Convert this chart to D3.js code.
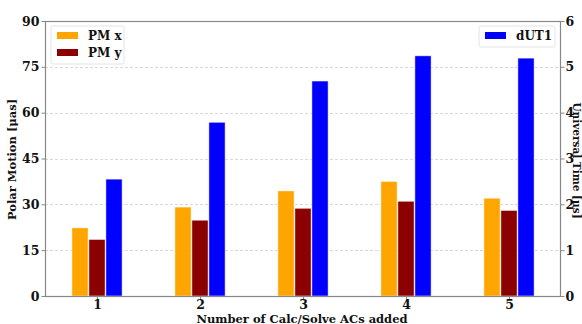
<!DOCTYPE html>
<html><head><meta charset="utf-8">
<script src="https://cdn.jsdelivr.net/npm/d3@7"></script>
<style>body{margin:0;background:#fff}svg{display:block}text{font-family:"DejaVu Serif","Liberation Serif",serif;font-weight:bold;fill:#111}</style>
</head><body><svg id="c" width="582" height="324"></svg>
<script>
const categories = ["1","2","3","4","5"];
const pmX = [22.3, 29.1, 34.4, 37.5, 32.0];
const pmY = [18.5, 24.8, 28.7, 31.0, 28.0];
const dUT1 = [2.55, 3.79, 4.69, 5.24, 5.19];
const leftTicks = [0,15,30,45,60,75,90];
const rightTicks = [0,1,2,3,4,5,6];

const svg = d3.select("#c");
const m = {l:45, r:560, t:21, b:296};
const x = d3.scaleLinear().domain([0.5,5.5]).range([45.5,560.5]);
const x0 = d3.scalePoint().domain(categories).range([x(1), x(5)]);
const yL = d3.scaleLinear().domain([0,90]).range([m.b, m.t]);
const yR = d3.scaleLinear().domain([0,6]).range([m.b, m.t]);
const off = 17, bw = 16.2;

// grid
svg.append("g").selectAll("line").data(leftTicks.slice(1,-1)).join("line")
  .attr("x1",m.l).attr("x2",m.r).attr("y1",d=>Math.round(yL(d))+0.5).attr("y2",d=>Math.round(yL(d))+0.5)
  .attr("stroke","#cfcfcf").attr("stroke-width",0.8).attr("stroke-dasharray","3,2");

function bars(data, scale, dx, color){
  svg.append("g").selectAll("rect").data(data).join("rect")
    .attr("x",(d,i)=>x0(categories[i])+dx-bw/2).attr("width",bw)
    .attr("y",d=>scale(d)).attr("height",d=>m.b-scale(d))
    .attr("fill",color).attr("stroke","#fff").attr("stroke-opacity",0.6).attr("stroke-width",0.8);
}
bars(pmX, yL, -off, "#FFA500");
bars(pmY, yL, 0, "#8B0000");
bars(dUT1, yR, off, "#0000FF");

// frame
svg.append("rect").attr("x",m.l+0.5).attr("y",m.t+0.5).attr("width",m.r-m.l).attr("height",m.b-m.t)
  .attr("fill","none").attr("stroke","#888").attr("stroke-width",1.2);

const axL = svg.append("g").attr("transform",`translate(${m.l+0.5},0)`)
  .call(d3.axisLeft(yL).tickValues(leftTicks).tickFormat(d3.format("d")).tickSize(4).tickPadding(2));
const axR = svg.append("g").attr("transform",`translate(${m.r+0.5},0)`)
  .call(d3.axisRight(yR).tickValues(rightTicks).tickFormat(d3.format("d")).tickSize(4).tickPadding(1));
const axB = svg.append("g").attr("transform",`translate(0,${m.b+0.5})`)
  .call(d3.axisBottom(x0).tickSize(4).tickPadding(0));
[axL,axR,axB].forEach(a=>{
  a.select(".domain").remove();
  a.selectAll("line").attr("stroke","#888");
  a.selectAll("text").attr("font-weight","bold").attr("font-size",12.5).attr("fill","#111");
});

svg.append("text").attr("x",302).attr("y",322.5).attr("text-anchor","middle").attr("font-size",11.5)
  .text("Number of Calc/Solve ACs added");
svg.append("text").attr("transform",`translate(16,${(m.t+m.b)/2+1}) rotate(-90)`).attr("text-anchor","middle")
  .attr("font-size",11.5).text("Polar Motion [μas]");
svg.append("text").attr("transform",`translate(573,${(m.t+m.b)/2+2}) rotate(90)`).attr("text-anchor","middle")
  .attr("font-size",10.5).text("Universal Time [μs]");

// legends
function legend(x1,y1,w,h,items){
  const g = svg.append("g");
  g.append("rect").attr("x",x1).attr("y",y1).attr("width",w).attr("height",h).attr("rx",2)
    .attr("fill","#fff").attr("fill-opacity",0.85).attr("stroke","#ddd").attr("stroke-width",0.8);
  items.forEach((it,i)=>{
    g.append("rect").attr("x",x1+6).attr("y",y1+6+i*17).attr("width",21).attr("height",7).attr("fill",it[1]);
    g.append("text").attr("x",x1+37).attr("y",y1+14+i*17).attr("font-size",12).text(it[0]);
  });
}
legend(51,26,73,38,[["PM x","#FFA500"],["PM y","#8B0000"]]);
legend(479,26,76,21,[["dUT1","#0000FF"]]);
</script></body></html>
